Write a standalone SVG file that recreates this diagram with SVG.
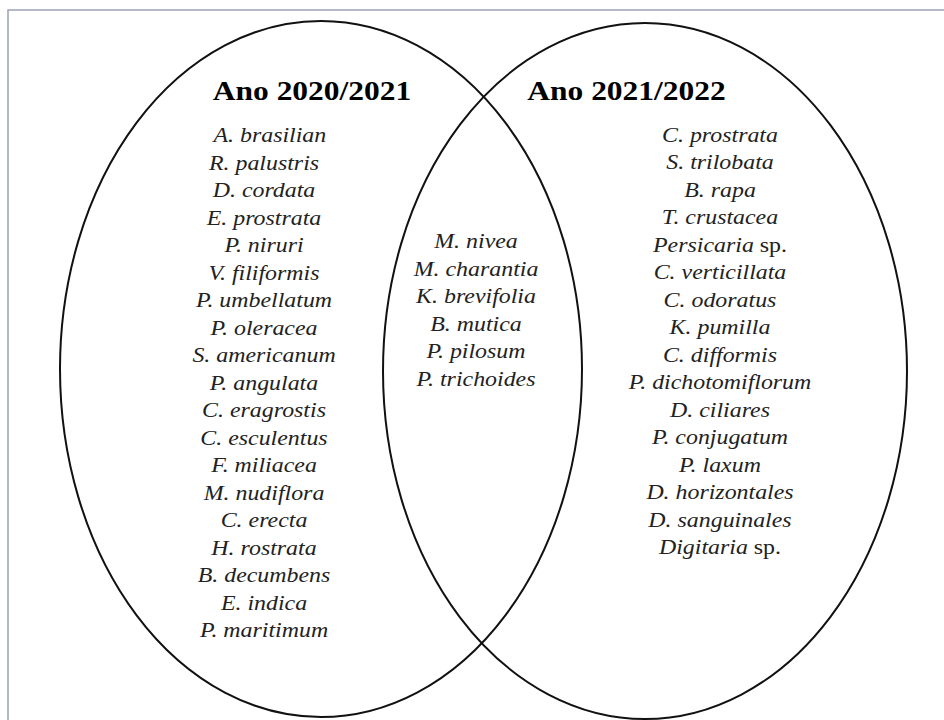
<svg xmlns="http://www.w3.org/2000/svg" width="944" height="720" viewBox="0 0 944 720">
<style>
.set{fill:none;stroke:#111;stroke-width:2}
.title{font-family:"Liberation Serif","Times New Roman",serif;font-weight:bold;font-size:27px;fill:#000;text-anchor:middle}
.sp{font-family:"Liberation Serif","Times New Roman",serif;font-style:italic;font-size:20.5px;fill:#222;text-anchor:middle}
.up{font-style:normal}
</style>
<rect x="0" y="0" width="944" height="720" fill="#fff"/>
<rect x="8" y="10" width="960" height="740" fill="none" stroke="#9aa3b8" stroke-width="1.5"/>
<g id="set-2020-2021">
<ellipse class="set" cx="321" cy="369" rx="261" ry="348"/>
<text class="title" transform="translate(312,100) scale(1.165,1)" x="0" y="0">Ano 2020/2021</text>
<g transform="translate(264,0) scale(1.165,1)">
<text class="sp" x="5" y="142.5">A. brasilian</text>
<text class="sp" x="0" y="170">R. palustris</text>
<text class="sp" x="0" y="197.5">D. cordata</text>
<text class="sp" x="0" y="225">E. prostrata</text>
<text class="sp" x="0" y="252.5">P. niruri</text>
<text class="sp" x="0" y="280">V. filiformis</text>
<text class="sp" x="0" y="307.5">P. umbellatum</text>
<text class="sp" x="0" y="335">P. oleracea</text>
<text class="sp" x="0" y="362.5">S. americanum</text>
<text class="sp" x="0" y="390">P. angulata</text>
<text class="sp" x="0" y="417.5">C. eragrostis</text>
<text class="sp" x="0" y="445">C. esculentus</text>
<text class="sp" x="0" y="472.5">F. miliacea</text>
<text class="sp" x="0" y="500">M. nudiflora</text>
<text class="sp" x="0" y="527.5">C. erecta</text>
<text class="sp" x="0" y="555">H. rostrata</text>
<text class="sp" x="0" y="582.5">B. decumbens</text>
<text class="sp" x="0" y="610">E. indica</text>
<text class="sp" x="0" y="637.5">P. maritimum</text>
</g>
</g>
<g id="set-2021-2022">
<ellipse class="set" cx="645" cy="371" rx="262" ry="348"/>
<text class="title" transform="translate(626.5,100) scale(1.165,1)" x="0" y="0">Ano 2021/2022</text>
<g transform="translate(720,0) scale(1.165,1)">
<text class="sp" x="0" y="142">C. prostrata</text>
<text class="sp" x="0" y="169.5">S. trilobata</text>
<text class="sp" x="0" y="197">B. rapa</text>
<text class="sp" x="0" y="224.5">T. crustacea</text>
<text class="sp" x="0" y="252">Persicaria <tspan class="up">sp.</tspan></text>
<text class="sp" x="0" y="279.5">C. verticillata</text>
<text class="sp" x="0" y="307">C. odoratus</text>
<text class="sp" x="0" y="334.5">K. pumilla</text>
<text class="sp" x="0" y="362">C. difformis</text>
<text class="sp" x="0" y="389.5">P. dichotomiflorum</text>
<text class="sp" x="0" y="417">D. ciliares</text>
<text class="sp" x="0" y="444.5">P. conjugatum</text>
<text class="sp" x="0" y="472">P. laxum</text>
<text class="sp" x="0" y="499.5">D. horizontales</text>
<text class="sp" x="0" y="527">D. sanguinales</text>
<text class="sp" x="0" y="554.5">Digitaria <tspan class="up">sp.</tspan></text>
</g>
</g>
<g id="intersection">
<g transform="translate(476,0) scale(1.165,1)">
<text class="sp" x="0" y="248.5">M. nivea</text>
<text class="sp" x="0" y="276">M. charantia</text>
<text class="sp" x="0" y="303.5">K. brevifolia</text>
<text class="sp" x="0" y="331">B. mutica</text>
<text class="sp" x="0" y="358.5">P. pilosum</text>
<text class="sp" x="0" y="386">P. trichoides</text>
</g>
</g>
</svg>
